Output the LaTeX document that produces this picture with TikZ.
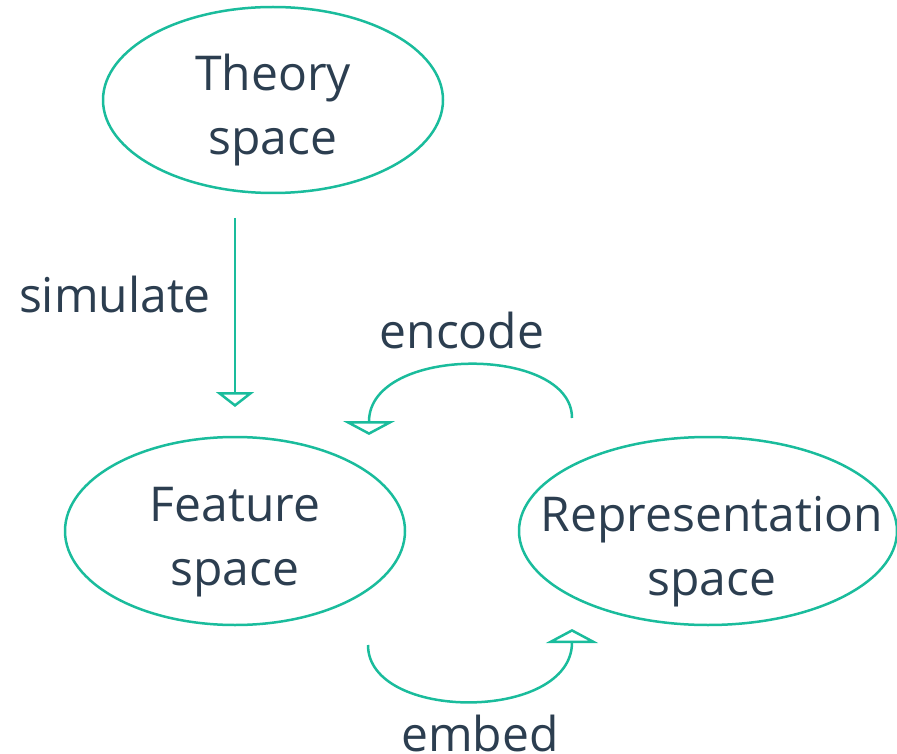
\documentclass[tikz,border=0pt]{standalone}
\usepackage{fontspec}
\setmainfont{Open Sans}
\usetikzlibrary{shapes.geometric,arrows.meta}
\definecolor{teal1}{HTML}{1ABC9C}
\definecolor{navy1}{HTML}{2C3E50}
\tikzset{
  space/.style={draw=teal1, line width=2.5pt, ellipse, inner xsep=-80pt, inner ysep=-30pt, align=center, text=navy1},
  flow/.style={draw=teal1, line width=2.5pt, -{Triangle[open, width=38pt, length=15pt]}},
  loopflow/.style={flow, -{Triangle[open, width=52pt, length=14pt]}},
  lbl/.style={text=navy1, anchor=base, inner sep=0pt}
}
\newcommand{\topstrut}[1][56pt]{\rule{0pt}{#1}}
\begin{document}
\begin{tikzpicture}[x=1pt, y=-1pt, line join=round, font=\fontsize{48}{64}\selectfont]
	\useasboundingbox (0,0) rectangle (897,754);
	% the three spaces
	\node[space, minimum width=340pt, minimum height=186pt] (theory) at (273,100) {\topstrut Theory\\space};
	\node[space, minimum width=340pt, minimum height=188pt] (feat) at (235,531) {\topstrut Feature\\space};
	\node[space, minimum width=378pt, minimum height=188pt] (repr) at (708,531)
		{\topstrut[76pt]\hspace*{8pt}Representation\\\hspace*{8pt}space};
	% free ends of the arrows
	\coordinate (simA) at (235,218);
	\coordinate (simB) at (235,407);
	\coordinate (encA) at (572,418);
	\coordinate (encB) at (369,435);
	\coordinate (embA) at (368,645);
	\coordinate (embB) at (572,629);
	\draw[flow] (simA) -- (simB);
	\draw[loopflow] (encA) .. controls (572,345) and (369,345) .. (encB);
	\draw[loopflow] (embA) .. controls (368,722) and (572,722) .. (embB);
	% arrow labels
	\node[lbl] (simL) at (115,312) {simulate};
	\node[lbl] (encL) at (462,348) {encode};
	\node[lbl] (embL) at (480,751) {embed};
\end{tikzpicture}
\end{document}
